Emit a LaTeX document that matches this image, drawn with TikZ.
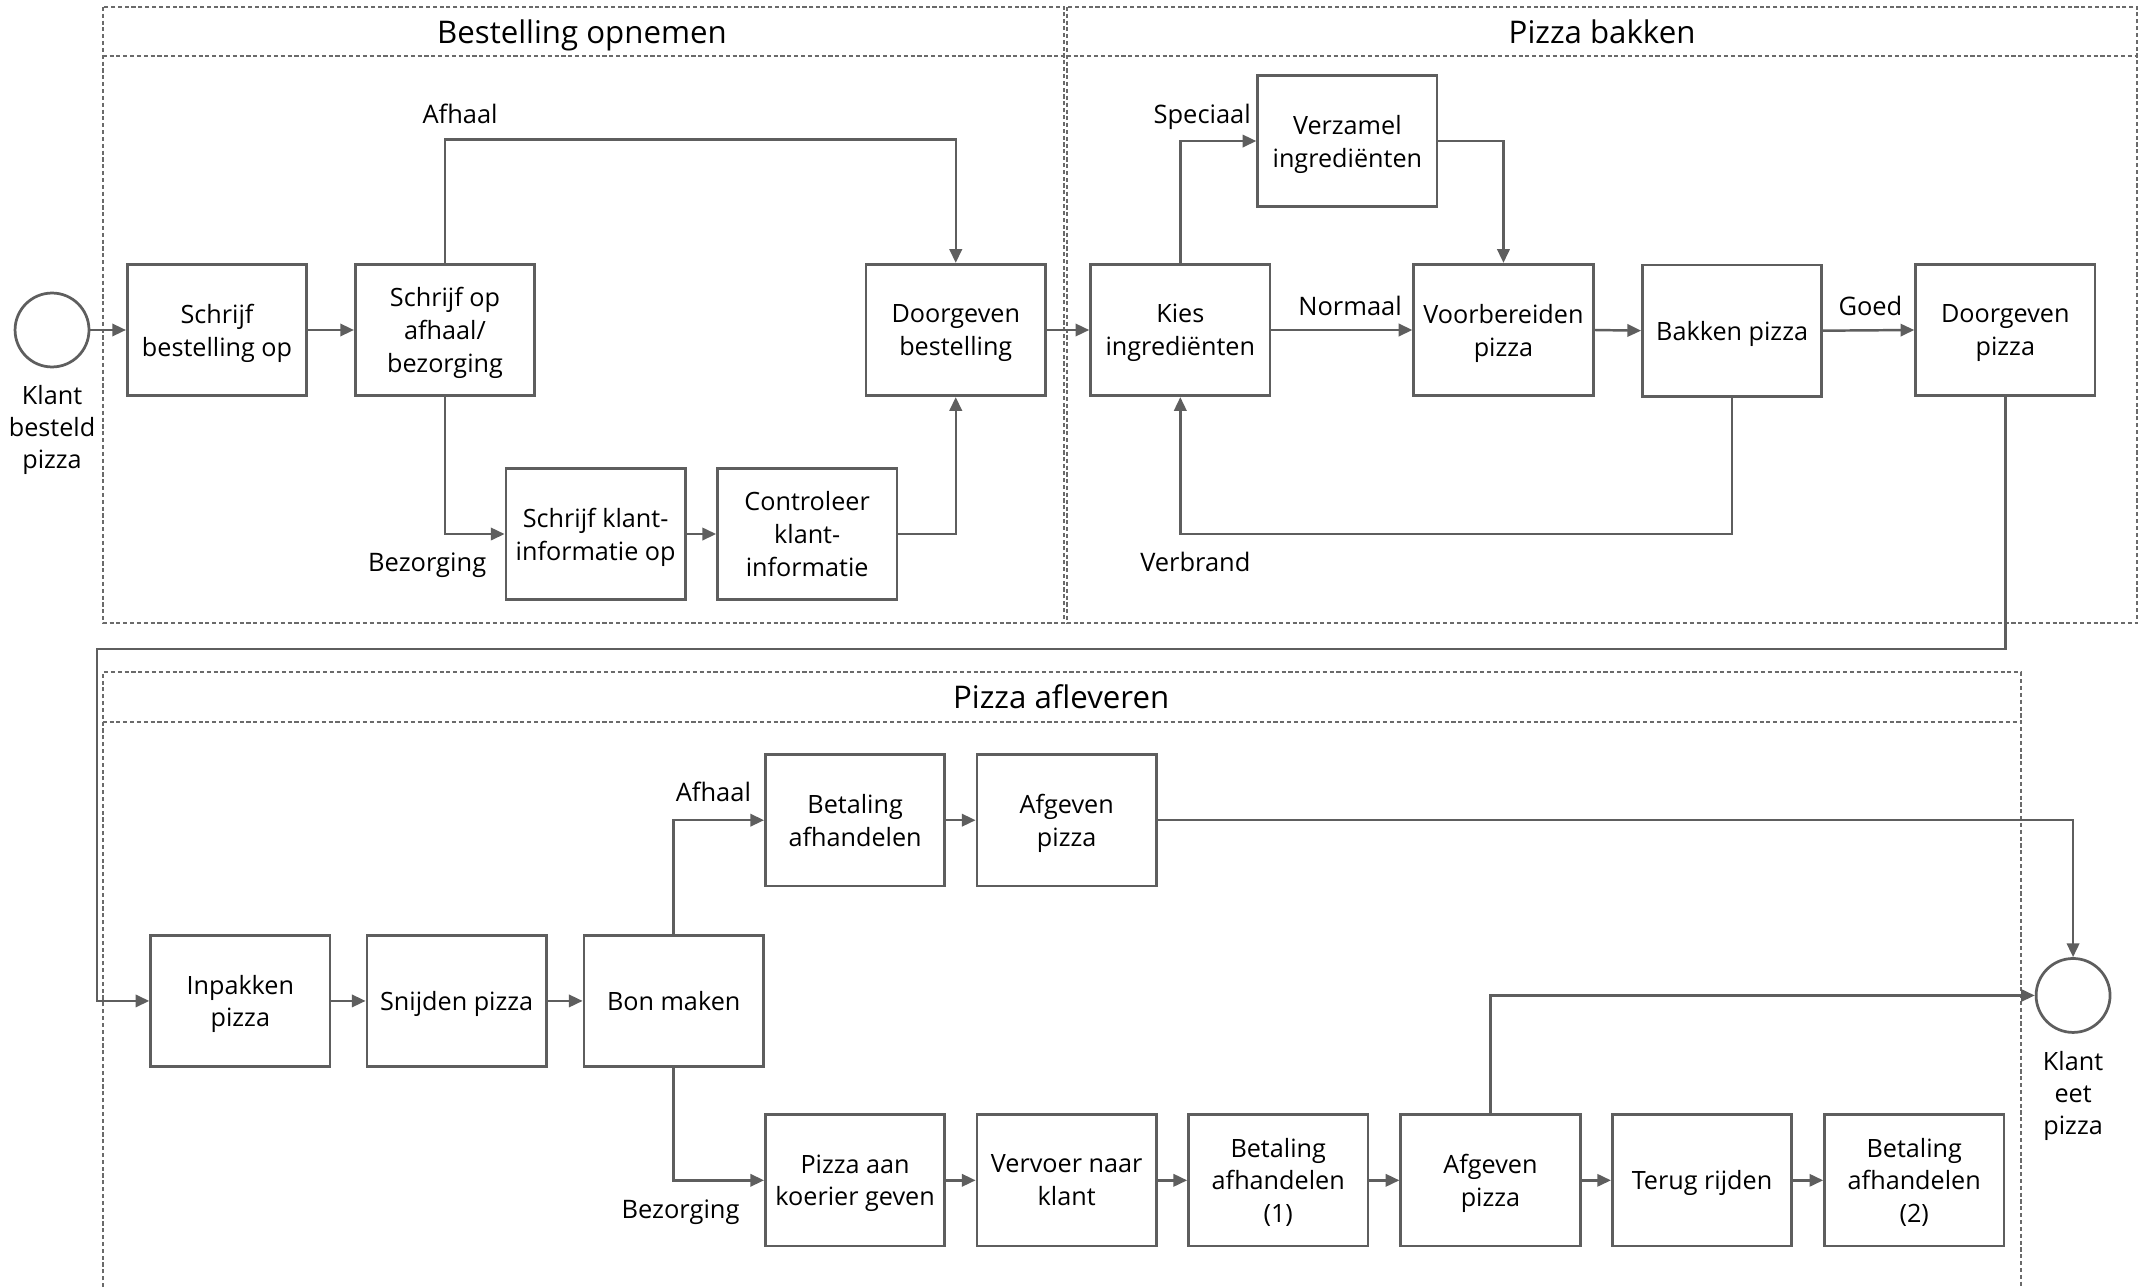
\documentclass[tikz,border=0pt]{standalone}
\usepackage{fontspec}
\setmainfont{Open Sans}
\usetikzlibrary{arrows.meta}
\definecolor{linec}{HTML}{5E5E5E}
\definecolor{framec}{HTML}{6A6A6A}
\begin{document}
\begin{tikzpicture}[x=1pt,y=-1pt,
  box/.style={draw=linec, line width=2pt, minimum width=131pt, minimum height=96pt, align=center, inner sep=2pt, text depth=0pt, font=\fontsize{18.4}{24}\selectfont},
  ev/.style={draw=linec, line width=2pt, circle, minimum size=54pt, inner sep=0pt},
  evl/.style={align=center, inner sep=0pt, text depth=0pt, anchor=south, font=\fontsize{18.4}{23.5}\selectfont},
  lbl/.style={align=center, inner sep=0pt, text depth=0pt, font=\fontsize{18.6}{24}\selectfont},
  ttl/.style={inner sep=0pt, text depth=0pt, font=\fontsize{22.8}{27}\selectfont},
  arr/.style={draw=linec, line width=1.8pt, -{Triangle[length=10pt,width=9pt]}},
  frm/.style={draw=framec, line width=1.5pt, dash pattern=on 3pt off 2pt}]
\useasboundingbox (0,0) rectangle (1568,940);
\fill[white] (0,0) rectangle (1568,940);
% frames
\draw[frm] (75,5) rectangle (777,455);
\draw[frm] (75,41) -- (777,41);
\draw[frm] (779,5) rectangle (1561,455);
\draw[frm] (779,41) -- (1561,41);
\draw[frm] (75,940) -- (75,491) -- (1476,491) -- (1476,940);
\draw[frm] (75,527) -- (1476,527);
\node[ttl] (t1) at (425,23) {Bestelling opnemen};
\node[ttl] (t2) at (1170,23) {Pizza bakken};
\node[ttl] (t3) at (775,509) {Pizza afleveren};
% start
\node[ev] (s) at (38,241) {};
\node[evl] (sl) at (38,342.5) {Klant\\besteld\\pizza};
% Bestelling opnemen
\node[box] (a1) at (158.5,241) {Schrijf\\bestelling op};
\node[box] (a2) at (325,241) {Schrijf op\\afhaal/\\bezorging};
\node[box] (a3) at (698,241) {Doorgeven\\bestelling};
\node[box] (a4) at (435,390) {Schrijf klant-\\informatie op};
\node[box] (a5) at (589.5,390) {Controleer\\klant-\\informatie};
% Pizza bakken
\node[box] (b1) at (862,241) {Kies\\ingrediënten};
\node[box] (b2) at (984,103) {Verzamel\\ingrediënten};
\node[box] (b3) at (1098,241) {Voorbereiden\\pizza};
\node[box] (b4) at (1265,241.5) {Bakken pizza};
\node[box] (b5) at (1464.5,241) {Doorgeven\\pizza};
% Pizza afleveren
\node[box] (c1) at (175.5,731) {Inpakken\\pizza};
\node[box] (c2) at (333.5,731) {Snijden pizza};
\node[box] (c3) at (492,731) {Bon maken};
\node[box] (c4) at (624.5,599) {Betaling\\afhandelen};
\node[box] (c5) at (779,599) {Afgeven\\pizza};
\node[box] (d1) at (624.5,862) {Pizza aan\\koerier geven};
\node[box] (d2) at (779,862) {Vervoer naar\\klant};
\node[box] (d3) at (933.5,862) {Betaling\\afhandelen\\(1)};
\node[box] (d4) at (1088.5,862) {Afgeven\\pizza};
\node[box] (d5) at (1243,862) {Terug rijden};
\node[box] (d6) at (1398,862) {Betaling\\afhandelen\\(2)};
\node[ev] (e) at (1514,727) {};
\node[evl] (el) at (1514,829) {Klant\\eet\\pizza};
% labels
\node[lbl] (l1) at (336,83) {Afhaal};
\node[lbl] (l2) at (312,410.5) {Bezorging};
\node[lbl] (l3) at (878,83) {Speciaal};
\node[lbl] (l4) at (986,223) {Normaal};
\node[lbl] (l5) at (1366,223) {Goed};
\node[lbl] (l6) at (873,410.5) {Verbrand};
\node[lbl] (l7) at (521,578) {Afhaal};
\node[lbl] (l8) at (497,883) {Bezorging};
% connectors
\coordinate (k1) at (71,474);
\draw[arr] (s.east) -- (a1.west);
\draw[arr] (a1.east) -- (a2.west);
\draw[arr] (a2.north) -- ++(0,-90) -| (a3.north);
\draw[arr] (a2.south) |- (a4.west);
\draw[arr] (a4.east) -- (a5.west);
\draw[arr] (a5.east) -| (a3.south);
\draw[arr] (a3.east) -- (b1.west);
\draw[arr] (b1.north) |- (b2.west);
\draw[arr] (b2.east) -| (b3.north);
\draw[arr] (b1.east) -- (b3.west);
\draw[arr] (b3.east) -- (b4.west);
\draw[arr] (b4.east) -- (b5.west);
\draw[arr] (b4.south) -- ++(0,99.5) -| (b1.south);
\draw[arr] (b5.south) |- (k1) |- (c1.west);
\draw[arr] (c1.east) -- (c2.west);
\draw[arr] (c2.east) -- (c3.west);
\draw[arr] (c3.north) |- (c4.west);
\draw[arr] (c3.south) |- (d1.west);
\draw[arr] (c4.east) -- (c5.west);
\draw[arr] (c5.east) -| (e.north);
\draw[arr] (d1.east) -- (d2.west);
\draw[arr] (d2.east) -- (d3.west);
\draw[arr] (d3.east) -- (d4.west);
\draw[arr] (d4.east) -- (d5.west);
\draw[arr] (d5.east) -- (d6.west);
\draw[arr] (d4.north) |- (e.west);
\end{tikzpicture}
\end{document}
